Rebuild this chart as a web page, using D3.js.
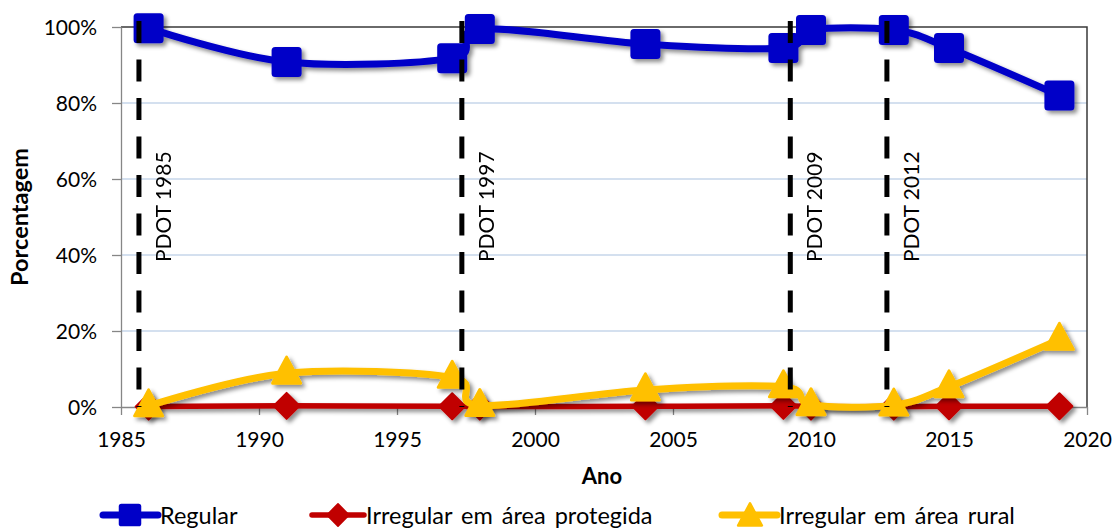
<!DOCTYPE html>
<html>
<head>
<meta charset="utf-8">
<script src="https://cdn.jsdelivr.net/npm/d3@7"></script>
<style>
  html, body { margin: 0; padding: 0; background: #fff; }
  svg { display: block; font-family: Lato, "Open Sans", sans-serif; }
</style>
</head>
<body>
<svg id="chart" width="1115" height="528"></svg>
<script>
// Survey years
const years = [1986, 1991, 1997, 1998, 2004, 2009, 2010, 2013, 2015, 2019];

// Share of occupied area by land-tenure status (%)
const regular   = [99.7, 90.8, 91.8, 99.5, 95.5, 94.5, 99.2, 99.2, 94.5, 82.0];
const protegida = [0.1, 0.3, 0.2, 0.1, 0.2, 0.3, 0.1, 0.1, 0.2, 0.2];
const rural     = [0.3, 8.9, 7.8, 0.4, 4.5, 5.3, 0.6, 0.5, 5.3, 17.8];

// Master-plan (PDOT) milestones
const pdotPos    = [1985.65, 1997.35, 2009.25, 2012.75];
const pdotLabels = ["PDOT 1985", "PDOT 1997", "PDOT 2009", "PDOT 2012"];

const xTicks = [1985, 1990, 1995, 2000, 2005, 2010, 2015, 2020];
const yTicks = [0, 20, 40, 60, 80, 100];

const seriesNames = ["Regular", "Irregular em área protegida", "Irregular em área rural"];

const svg = d3.select("#chart");
const pL = 121, pR = 1087, pT = 27, pB = 407;

const x = d3.scaleLinear().domain([1985, 2020]).range([pL, pR]);
const y = d3.scaleLinear().domain([0, 100]).range([pB, pT]);

// Drop shadow used by lines and markers
const defs = svg.append("defs");
const f = defs.append("filter").attr("id", "shadow")
  .attr("x", "-20%").attr("y", "-20%").attr("width", "150%").attr("height", "150%");
f.append("feDropShadow").attr("dx", 3).attr("dy", 3).attr("stdDeviation", 2)
  .attr("flood-color", "#000").attr("flood-opacity", 0.45);

// Gridlines
svg.append("g").selectAll("line").data(yTicks.filter(d => d > 0 && d < 100)).join("line")
  .attr("x1", pL).attr("x2", pR)
  .attr("y1", d => y(d)).attr("y2", d => y(d))
  .attr("stroke", "#c6d6ea").attr("stroke-width", 1.3);

// Plot-area border (top and right)
svg.append("path")
  .attr("d", `M${pL},${pT}H${pR}V${pB}`)
  .attr("fill", "none").attr("stroke", "#3a3a3a").attr("stroke-width", 1.5);

// Axes
const yAxis = d3.axisLeft(y).tickValues(yTicks).tickFormat(d => d + "%").tickSize(9).tickSizeOuter(0);
const gy = svg.append("g").attr("transform", `translate(${pL},0)`).call(yAxis);
gy.select(".domain").attr("stroke", "#868686").attr("stroke-width", 1.3);
gy.selectAll(".tick line").attr("stroke", "#868686").attr("stroke-width", 1.3);
gy.selectAll(".tick text").attr("font-size", 21).attr("fill", "#000")
  .attr("x", -24).attr("dy", "0.36em").attr("font-family", "Lato, sans-serif");

const xAxis = d3.axisBottom(x).tickValues(xTicks).tickFormat(d3.format("d")).tickSize(8).tickSizeOuter(0);
const gx = svg.append("g").attr("transform", `translate(0,${pB})`).call(xAxis);
gx.select(".domain").attr("stroke", "#868686").attr("stroke-width", 1.3);
gx.selectAll(".tick line").attr("stroke", "#868686").attr("stroke-width", 1.3);
gx.selectAll(".tick text").attr("font-size", 21).attr("fill", "#000")
  .attr("y", 40).attr("dy", "0").attr("font-family", "Lato, sans-serif");

// Axis titles
svg.append("text").attr("x", 602).attr("y", 484)
  .attr("text-anchor", "middle").attr("font-size", 22).attr("font-weight", "bold").text("Ano");
svg.append("text").attr("transform", `translate(28,${(pT + pB) / 2}) rotate(-90)`)
  .attr("text-anchor", "middle").attr("font-size", 23.5).attr("font-weight", "bold").text("Porcentagem");

const series = [
  { name: seriesNames[0], values: regular,   color: "#0000c8", width: 7, marker: "square" },
  { name: seriesNames[1], values: protegida, color: "#c00000", width: 5.5, marker: "diamond" },
  { name: seriesNames[2], values: rural,     color: "#ffc000", width: 7, marker: "triangle" }
];

const line = d3.line().x(d => x(d[0])).y(d => y(d[1])).curve(d3.curveCatmullRom.alpha(0));

function drawMarker(g, type, color) {
  if (type === "square") {
    g.append("rect").attr("x", -15).attr("y", -15).attr("width", 30).attr("height", 30)
      .attr("rx", 3.5).attr("fill", color);
  } else if (type === "diamond") {
    g.append("path").attr("d", "M0,-13L13,0L0,13L-13,0Z").attr("fill", color)
      .attr("stroke", color).attr("stroke-width", 2).attr("stroke-linejoin", "round");
  } else {
    g.append("path").attr("d", "M0,-16L14,10L-14,10Z").attr("fill", color)
      .attr("stroke", color).attr("stroke-width", 3).attr("stroke-linejoin", "round");
  }
}

// Draw series: red first, then yellow, blue on top
const order = [1, 2, 0];
order.forEach(i => {
  const s = series[i];
  const pts = years.map((yr, k) => [yr, s.values[k]]);
  const g = svg.append("g").attr("filter", "url(#shadow)");
  g.append("path").datum(pts).attr("d", line)
    .attr("fill", "none").attr("stroke", s.color).attr("stroke-width", s.width)
    .attr("stroke-linecap", "round").attr("stroke-linejoin", "round");
  g.selectAll("g.m").data(pts).join("g").attr("class", "m")
    .attr("transform", d => `translate(${x(d[0])},${y(d[1])})`)
    .each(function () { drawMarker(d3.select(this), s.marker, s.color); });
});

// PDOT milestone lines and labels
const pg = svg.append("g");
pg.selectAll("line").data(pdotPos).join("line")
  .attr("x1", d => x(d)).attr("x2", d => x(d))
  .attr("y1", 21).attr("y2", pB)
  .attr("stroke", "#000").attr("stroke-width", 5).attr("stroke-dasharray", "22,16.5");
pg.selectAll("text").data(pdotPos).join("text")
  .attr("transform", d => `translate(${x(d) + 32},262) rotate(-90)`)
  .attr("font-size", 21).attr("fill", "#000")
  .text((d, i) => pdotLabels[i]);

// Legend: line sample with marker, then label
const legendItems = [
  { x0: 103, x1: 158, cx: 130, tx: 160 },
  { x0: 312, x1: 364, cx: 338, tx: 366 },
  { x0: 722, x1: 777, cx: 750, tx: 779 }
];
const lg = svg.append("g");
series.forEach((s, i) => {
  const it = legendItems[i];
  lg.append("line").attr("x1", it.x0).attr("x2", it.x1).attr("y1", 515).attr("y2", 515)
    .attr("stroke", s.color).attr("stroke-width", s.width).attr("stroke-linecap", "round");
  const m = lg.append("g").attr("transform", `translate(${it.cx},${i === 2 ? 517 : 515}) scale(${i === 0 ? 0.75 : 0.85})`);
  drawMarker(m, s.marker, s.color);
  lg.append("text").attr("x", it.tx).attr("y", 524).attr("font-size", 23.5)
    .attr("word-spacing", 3).text(s.name);
});
</script>
</body>
</html>
